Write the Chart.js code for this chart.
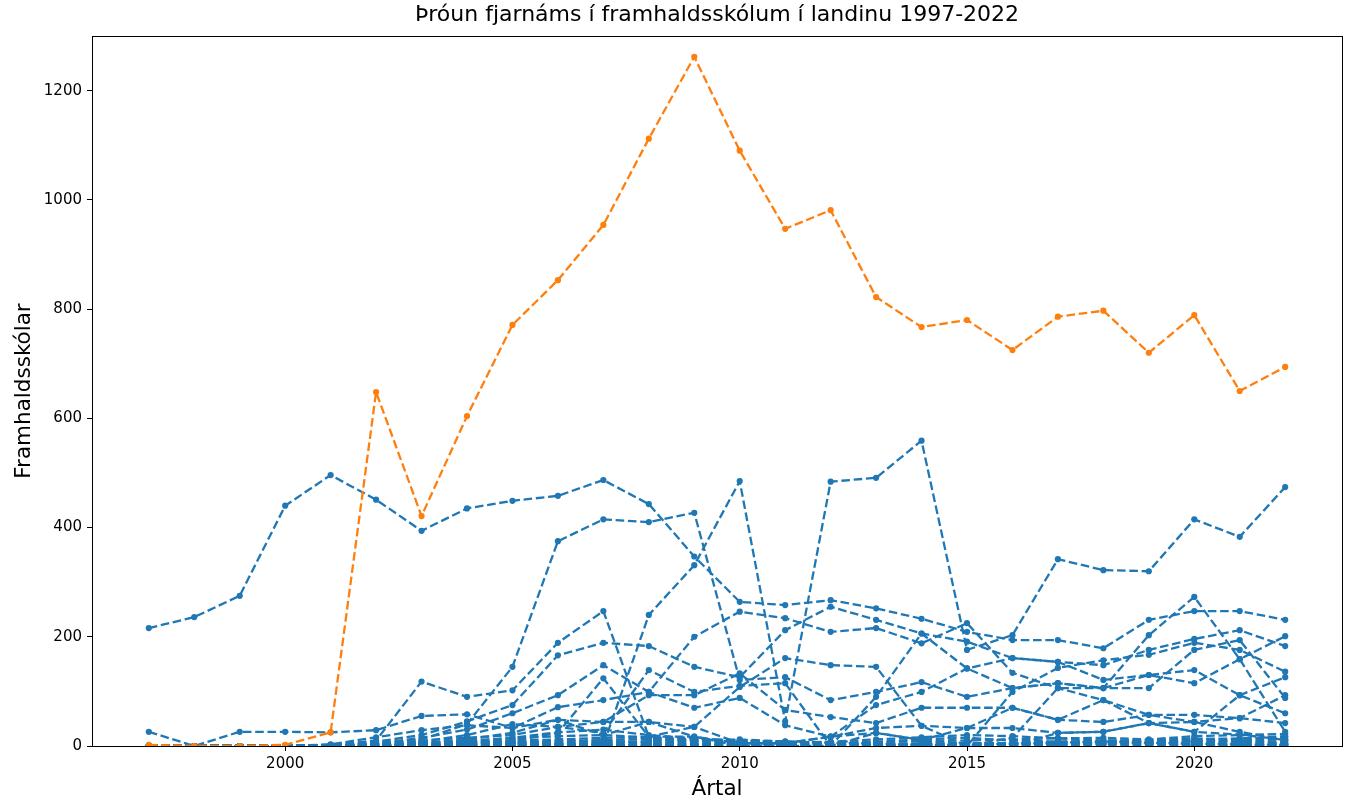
<!DOCTYPE html>
<html>
<head>
<meta charset="utf-8">
<script src="https://cdn.jsdelivr.net/npm/chart.js@4.4.1/dist/chart.umd.min.js"></script>
<style>
  body { margin: 0; background: #fff; }
  #wrap { width: 1351px; height: 803px; }
</style>
</head>
<body>
<div id="wrap"><canvas id="chart" width="1351" height="803"></canvas></div>
<script>
// Ár 1997-2022
const years = [1997,1998,1999,2000,2001,2002,2003,2004,2005,2006,2007,2008,2009,2010,2011,2012,2013,2014,2015,2016,2017,2018,2019,2020,2021,2022];
const xTicks = [2000, 2005, 2010, 2015, 2020];
const yTicks = [0, 200, 400, 600, 800, 1000, 1200];

// landið (appelsínugul lína)
const totalSeries = [2,0,0,2,25,648,421,604,771,853,954,1112,1262,1090,947,981,822,767,780,725,786,797,720,789,650,694];

// einstakir skólar (bláar línur)
const schoolSeries = [
  [216,236,275,440,496,451,394,435,449,458,487,443,347,264,258,267,252,233,209,194,194,179,231,247,247,231],
  [0,0,0,0,0,0,0,0,0,0,2,240,331,485,45,484,491,559,176,203,342,322,320,415,383,474],
  [0,0,0,0,0,5,12,40,145,375,415,410,427,121,126,84,99,117,90,106,115,106,130,139,93,60],
  [0,0,0,0,2,10,118,90,102,189,247,17,17,5,5,17,24,11,33,33,24,26,42,26,21,11],
  [0,0,0,0,0,8,20,45,75,166,189,183,145,126,212,255,231,206,191,161,154,148,176,196,212,183],
  [0,0,0,0,0,4,15,30,60,93,148,99,200,246,234,209,216,188,225,134,106,84,42,44,26,11],
  [0,0,0,0,0,0,0,3,10,24,124,17,35,108,161,148,145,37,0,99,143,157,167,189,176,136],
  [26,0,26,26,25,29,55,58,33,48,44,93,93,133,66,53,42,70,70,70,48,44,57,57,51,42],
  [0,0,0,0,3,16,29,38,33,71,84,99,70,88,38,17,75,99,142,161,154,121,130,115,159,201],
  [0,0,0,0,0,2,8,20,40,35,24,139,99,110,115,0,90,206,142,106,115,106,203,273,159,26],
  [0,0,0,0,0,0,5,12,24,48,20,44,17,0,0,0,24,11,0,15,106,106,106,176,194,88],
  [0,0,0,0,0,0,0,0,0,0,0,0,0,0,0,0,0,0,0,0,24,26,42,26,93,126],
  [0,0,0,0,0,5,10,15,20,35,44,44,35,5,5,17,33,37,33,70,48,84,57,44,51,93],
  [0,0,0,0,0,3,6,8,10,12,15,16,10,8,6,4,7,9,10,12,14,15,12,18,20,22],
  [0,0,0,0,1,2,4,6,8,5,7,9,12,10,8,6,5,3,4,6,8,10,9,7,5,4],
  [0,0,0,0,0,0,2,3,5,8,10,6,4,2,3,5,8,12,15,10,8,6,4,3,2,1],
  [0,0,0,0,0,1,3,5,7,9,11,13,9,6,4,2,1,2,3,5,7,9,11,14,12,16],
  [0,0,0,0,0,0,1,2,3,4,6,8,10,12,8,5,3,2,1,0,2,4,6,8,10,12],
  [0,0,0,0,2,4,6,10,14,18,20,16,12,8,4,2,1,0,1,2,3,4,5,6,7,8],
  [0,0,0,0,0,0,0,1,2,3,4,5,6,4,3,2,2,3,4,5,6,7,8,9,10,5],
  [0,0,0,0,0,2,5,8,6,4,3,2,1,1,2,3,4,5,6,4,2,1,0,1,2,3],
  [0,0,0,0,0,0,3,8,15,25,30,20,14,10,8,6,4,2,2,4,6,8,6,4,3,2],
  [0,0,0,0,0,0,0,0,0,0,0,0,0,3,5,8,12,16,20,18,14,10,8,12,14,18],
  [0,0,0,0,0,1,2,3,4,3,2,1,2,3,4,3,2,1,2,3,4,5,4,3,2,1]
];

const BLUE = '#1f77b4';
const ORANGE = '#ff7f0e';
const FONT = "'DejaVu Sans', sans-serif";

function toPoints(arr) {
  return arr.map((v, i) => ({ x: years[i], y: v }));
}

function lineDataset(arr, color, order) {
  return {
    data: toPoints(arr),
    borderColor: color,
    backgroundColor: color,
    borderWidth: 2.3,
    borderDash: [8.6, 3.7],
    pointRadius: 3.1,
    pointBorderWidth: 0,
    pointHoverRadius: 3.1,
    tension: 0,
    fill: false,
    order: order
  };
}

const datasets = schoolSeries.map(s => lineDataset(s, BLUE, 2));
datasets.push(lineDataset(totalSeries, ORANGE, 1));

// ramminn utan um teiknisvæðið
const frame = {
  id: 'frame',
  afterDraw(chart) {
    const a = chart.chartArea;
    const ctx = chart.ctx;
    ctx.save();
    ctx.strokeStyle = '#000';
    ctx.lineWidth = 1;
    ctx.strokeRect(Math.round(a.left) + 0.5, Math.round(a.top) + 0.5,
                   Math.round(a.right - a.left), Math.round(a.bottom - a.top));
    ctx.restore();
  }
};

new Chart(document.getElementById('chart').getContext('2d'), {
  type: 'line',
  data: { datasets: datasets },
  options: {
    responsive: false,
    animation: false,
    devicePixelRatio: 1,
    layout: { padding: { left: 0, right: 9, top: 0, bottom: 0 } },
    plugins: {
      legend: { display: false },
      tooltip: { enabled: false },
      title: {
        display: true,
        text: 'Þróun fjarnáms í framhaldsskólum í landinu 1997-2022',
        color: '#000',
        font: { family: FONT, size: 22, weight: 'normal', lineHeight: 1.2 },
        padding: { top: 2, bottom: 7.6 },
        fullSize: false
      }
    },
    scales: {
      x: {
        type: 'linear',
        min: 1995.75,
        max: 2023.25,
        afterBuildTicks: scale => { scale.ticks = xTicks.map(v => ({ value: v })); },
        afterFit: scale => { scale.height = 57; },
        ticks: {
          color: '#000',
          font: { family: FONT, size: 15 },
          padding: 4,
          maxRotation: 0,
          callback: v => String(v)
        },
        grid: { display: true, drawOnChartArea: false, drawTicks: true, tickLength: 5, color: '#000' },
        border: { display: true, color: '#000' },
        title: {
          display: true,
          text: 'Ártal',
          color: '#000',
          font: { family: FONT, size: 21.5, lineHeight: 1.2 },
          padding: { top: 0, bottom: 0.5 }
        }
      },
      y: {
        type: 'linear',
        min: 0,
        max: 1300,
        afterBuildTicks: scale => { scale.ticks = yTicks.map(v => ({ value: v })); },
        afterFit: scale => { scale.width = 92; },
        ticks: {
          color: '#000',
          font: { family: FONT, size: 15 },
          padding: 5,
          callback: v => String(v)
        },
        grid: { display: true, drawOnChartArea: false, drawTicks: true, tickLength: 5, color: '#000' },
        border: { display: true, color: '#000' },
        title: {
          display: true,
          text: 'Framhaldsskólar',
          color: '#000',
          font: { family: FONT, size: 21.5, lineHeight: 1.2 },
          padding: { top: 12, bottom: 0 }
        }
      }
    }
  },
  plugins: [frame]
});
</script>
</body>
</html>
